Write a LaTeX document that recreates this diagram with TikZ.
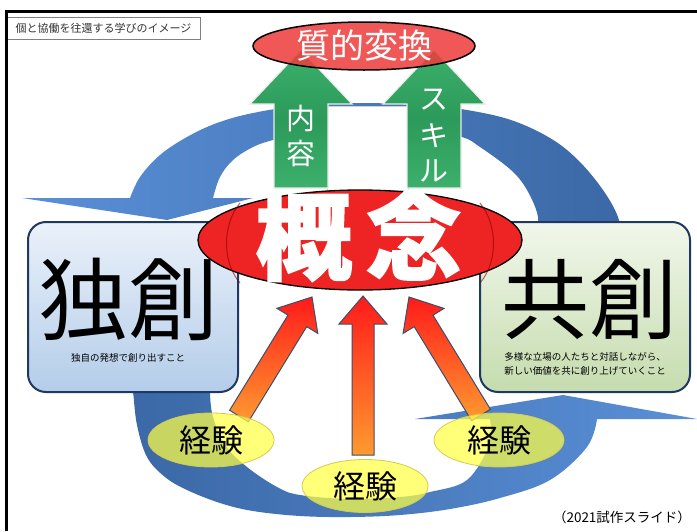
\documentclass[tikz,border=0pt]{standalone}
\usepackage{fontspec}
\newfontfamily\jp{Noto Sans CJK JP}
\usetikzlibrary{calc,shapes.geometric}
\definecolor{blueL}{HTML}{5A90D8}
\definecolor{blueD}{HTML}{3B68A6}
\definecolor{grn}{HTML}{3CB06C}
\definecolor{grnD}{HTML}{2C9A5A}
\definecolor{redA}{HTML}{EE3B3B}
\definecolor{redB}{HTML}{EE2424}
\definecolor{navy}{HTML}{1F3864}
\definecolor{boxB1}{HTML}{EAF1FA}
\definecolor{boxB2}{HTML}{B4CDE9}
\definecolor{boxG1}{HTML}{F1F7EB}
\definecolor{boxG2}{HTML}{C5DCAE}
\definecolor{arrTop}{HTML}{FF1A1A}
\definecolor{arrBot}{HTML}{FF9A30}
\definecolor{arrLine}{HTML}{3C4F6B}
\definecolor{yel}{HTML}{FFFF45}
\newcommand\fatarrow[2]{%
  \coordinate (fab) at ($(#2)!28pt!(#1)$);
  \shade[orangearrow] ($(#1)!11pt!90:(#2)$) -- ($(fab)!11pt!90:(#2)$) -- ($(fab)!24pt!90:(#2)$) -- (#2) -- ($(fab)!24pt!-90:(#2)$) -- ($(fab)!11pt!-90:(#2)$) -- ($(#1)!11pt!-90:(#2)$) -- cycle;}
\begin{document}
\begin{tikzpicture}[x=1pt,y=-1pt,
  orangearrow/.style={top color=arrTop, bottom color=arrBot, draw=arrLine, line width=1},
  greenarrow/.style={top color=grn, bottom color=grn, middle color=grnD, draw=white!85!gray, line width=1.2},
  wtext/.style={font=\jp\fontsize{29}{29}\selectfont, text=white, inner sep=0pt},
  sidebox/.style={draw=navy, line width=2, rounded corners=18, minimum width=210, minimum height=170},
  expell/.style={ellipse, draw=yellow!60!gray, line width=.8, fill=yel, fill opacity=.72, text opacity=1, inner sep=0pt},
  exptext/.style={font=\jp\fontsize{32}{32}\selectfont}]
\useasboundingbox (0,0) rectangle (697,531);
\fill[white] (0,0) rectangle (697,531);
% top blue curved arrow
\shade[left color=blueL, right color=blueD] (22,198)
  -- plot[smooth, tension=.6] coordinates {(130,198) (140,177) (160,155) (187,137) (217,123) (253,113) (300,106) (365,103) (430,106) (467,110) (511,120) (550,138) (578,160) (603,190) (618,217) (622,240)}
  -- plot[smooth, tension=.6] coordinates {(535,240) (538,217) (527,190) (511,170) (480,147) (462,137) (420,128) (365,126) (310,131) (273,140) (253,147) (233,160) (220,177) (213,198)}
  -- (253,198) -- (167,220) -- cycle;
% bottom blue curved arrow
\shade[left color=blueD, right color=blueL]
  plot[smooth, tension=.6] coordinates {(130,380) (133,392) (137,425) (147,457) (165,477) (187,490) (220,503) (253,511) (300,516) (350,517) (400,515) (450,509) (500,498) (550,480) (587,447) (597,419)}
  -- (697,419) -- (563,395) -- (415,419)
  -- plot[smooth, tension=.6] coordinates {(490,419) (489,445) (467,480) (430,492) (400,497) (350,499) (300,495) (277,487) (247,467) (225,445) (213,417) (210,392) (212,380)}
  -- cycle;
% white panel between green arrows
\filldraw[fill=white, draw=gray!35, line width=1] (327,106) rectangle (408,190);
% green arrows
\shade[greenarrow] (274,188) -- (274,104) -- (250,104) -- (301,50) -- (352,104) -- (328,104) -- (328,188) -- cycle;
\shade[greenarrow] (407,188) -- (407,104) -- (383,104) -- (434,50) -- (485,104) -- (461,104) -- (461,188) -- cycle;
\node[wtext] (n1) at (301,119) {内};
\node[wtext] (n2) at (301,153) {容};
\node[wtext] (s1) at (434,100) {ス};
\node[wtext] (s2) at (434,136) {キ};
\node[wtext] (s3) at (434,171) {ル};
% 質的変換
\node[ellipse, draw=black, line width=1.5, fill=redA, fill opacity=.85, text opacity=1,
  minimum width=222, minimum height=48, inner sep=0pt,
  font=\jp\fontsize{34}{34}\selectfont, text=white] (hen) at (364,46) {質的変換};
% side boxes
\node[sidebox, top color=boxB1, bottom color=boxB2] (dok) at (133,307) {};
\node[sidebox, top color=boxG1, bottom color=boxG2] (kyo) at (585,307) {};
\node[font=\jp\fontsize{90}{90}\selectfont, inner sep=0pt] (dokt) at (128,299) {独創};
\node[font=\jp\fontsize{9.5}{9.5}\selectfont, inner sep=0pt] (doks) at (128,358) {独自の発想で創り出すこと};
\node[font=\jp\fontsize{88}{88}\selectfont, inner sep=0pt] (kyot) at (589,299) {共創};
\node[font=\jp\fontsize{9.5}{13.5}\selectfont, align=center, inner sep=0pt] (kyos) at (585,364)
  {多様な立場の人たちと対話しながら、\\新しい価値を共に創り上げていくこと};
% 概念
\node[ellipse, draw=black, line width=1.3, fill=redB, minimum width=324, minimum height=100, inner sep=0pt] (gai) at (360,240) {};
\draw[red!55!black, line width=1, opacity=.6] (240,203) .. controls (222,225) and (222,262) .. (240,283);
\draw[red!55!black, line width=1, opacity=.6] (480,203) .. controls (498,225) and (498,262) .. (480,283);
\node[font=\jp\bfseries\addfontfeature{FakeBold=1.6}\fontsize{96}{96}\selectfont, text=white, inner sep=0pt] (gait) at (359,236) {概\hspace{14pt}念};
% orange arrows
\coordinate (o1s) at (239,416); \coordinate (o1t) at (312,297);
\coordinate (o2s) at (363,455); \coordinate (o2t) at (363,296);
\coordinate (o3s) at (481,415); \coordinate (o3t) at (409,297);
\fatarrow{o1s}{o1t}
\fatarrow{o2s}{o2t}
\fatarrow{o3s}{o3t}
% experiences
\node[expell, minimum width=126, minimum height=54] (k1) at (211,440) {};
\node[expell, minimum width=126, minimum height=53] (k2) at (365,486) {};
\node[expell, minimum width=130, minimum height=54] (k3) at (499,440) {};
\node[exptext] at (k1) {経験};
\node[exptext] at (k2) {経験};
\node[exptext] at (k3) {経験};
% caption
\node[font=\jp\fontsize{13.5}{13.5}\selectfont, inner sep=0pt] (cap) at (622,517) {（2021試作スライド）};
% title box and frame
\node[draw=gray, line width=.8, minimum width=193, minimum height=22, inner sep=0pt,
  font=\jp\fontsize{11}{11}\selectfont, text=black!80] (title) at (103.5,28) {個と協働を往還する学びのイメージ};
\draw[line width=3] (6,531) -- (6,11.5) -- (697,11.5);
\end{tikzpicture}
\end{document}
